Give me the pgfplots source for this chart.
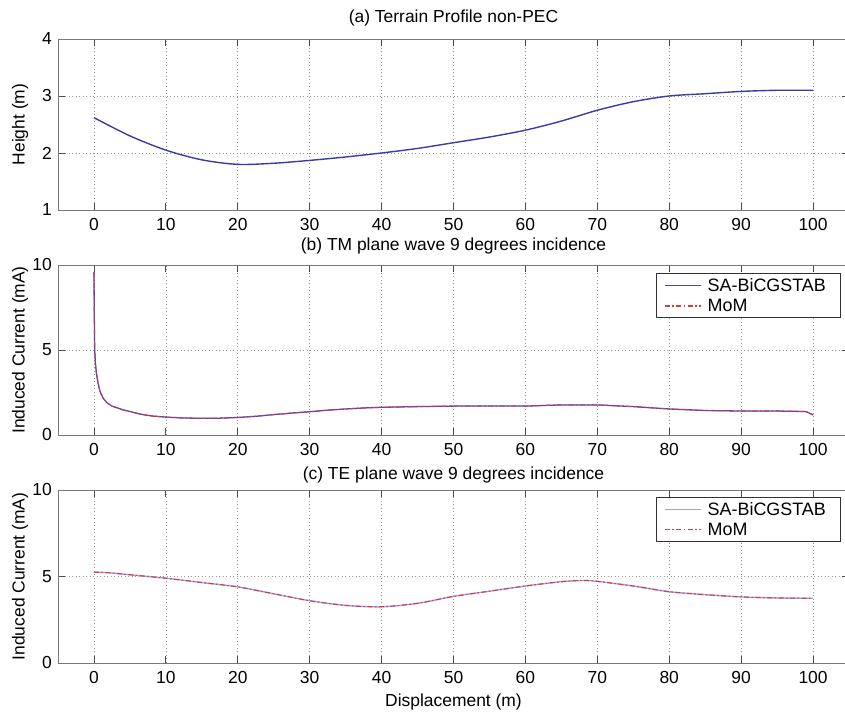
\documentclass[border=0pt]{standalone}
\usepackage{fontspec}
\setmainfont{Liberation Sans}
\usepackage{pgfplots}
\pgfplotsset{compat=1.18}

\definecolor{sablue}{RGB}{70,70,190}
\definecolor{salight}{RGB}{160,160,225}
\definecolor{momred}{RGB}{215,60,60}
\definecolor{frame}{RGB}{120,120,120}

\pgfplotsset{
  panel/.style={
    scale only axis,
    width=791bp,
    xmin=-5, xmax=105,
    xtick={0,10,...,100},
    grid=major,
    major grid style={dash pattern=on 1bp off 2.5bp, gray!80, line width=0.7pt},
    axis line style={frame, line width=0.9pt},
    tick style={black!70, line width=0.8pt},
    major tick length=7bp,
    tick align=inside,
    font=\fontsize{17.5}{20}\selectfont,
    /pgf/number format/assume math mode=true,
    xticklabel style={inner sep=0pt, yshift=-8bp},
    yticklabel style={inner sep=0pt, xshift=-6bp},
    ylabel style={at={(axis description cs:-0.048,0.5)}, anchor=center, rotate=0, inner sep=0pt},
    title style={at={(axis description cs:0.5,1)}, anchor=south, inner sep=0pt},
    legend cell align=left,
    legend style={draw=black!80, line width=0.8pt, fill=white,
      font=\fontsize{18}{22}\selectfont, inner xsep=8bp, inner ysep=3bp,
      row sep=2bp,
      nodes={inner xsep=6bp, inner ysep=2bp}},
    legend image code/.code={\draw[#1, line width=1.5pt] (0bp,0bp) -- (36bp,0bp);},
  }
}

\begin{document}
\begin{tikzpicture}[x=1bp,y=1bp]
\path[use as bounding box] (0,0) rectangle (845,713);

% (a) terrain profile
\begin{axis}[panel, at={(58bp,503bp)}, anchor=south west, height=171bp,
  ymin=1, ymax=4, ytick={1,2,3,4},
  ylabel={Height (m)},
  title={(a) Terrain Profile non-PEC}, title style={yshift=7bp}]
\addplot[sablue!85!black, line width=1.4pt, smooth] coordinates {
 (0,2.62) (5,2.30) (10,2.05) (15,1.88) (20,1.80) (25,1.82) (30,1.87)
 (35,1.93) (40,2.00) (45,2.08) (50,2.18) (55,2.28) (60,2.40) (65,2.56)
 (70,2.75) (75,2.90) (80,3.00) (85,3.04) (90,3.08) (95,3.10) (100,3.10)};
\end{axis}

% (b) TM incidence
\begin{axis}[panel, at={(58bp,278bp)}, anchor=south west, height=170bp,
  ymin=0, ymax=10, ytick={0,5,10},
  ylabel={Induced Current (mA)},
  title={(b) TM plane wave 9 degrees incidence}, title style={yshift=5bp},
  legend style={at={(axis description cs:0.989,0.953)}, anchor=north east}]
\addplot[sablue, line width=1.3pt] coordinates {
 (0,9.6) (0.05,7.0) (0.1,5.0) (0.2,4.2) (0.35,3.6) (0.6,3.0) (0.85,2.55)
 (1.3,2.15) (1.8,1.9) (2.5,1.7) (3.2,1.6) (4.1,1.47) (5,1.38) (6.4,1.23)
 (8,1.12) (10,1.05) (12.5,1.0) (15,0.98) (17.5,0.99) (20,1.03) (22.5,1.1)
 (25,1.2) (27.5,1.29) (30,1.37) (32.5,1.46) (35,1.53) (37.5,1.59) (40,1.63)
 (45,1.67) (50,1.70) (55,1.70) (60,1.70) (65,1.77) (70,1.77) (75,1.67)
 (80,1.53) (85,1.44) (90,1.41) (95,1.41) (99,1.38) (100,1.18)};
\addlegendentry{SA-BiCGSTAB}
\addplot[momred, line width=1.1pt, dash pattern=on 5bp off 2.5bp on 1.5bp off 2.5bp] coordinates {
 (0,9.6) (0.05,7.0) (0.1,5.0) (0.2,4.2) (0.35,3.6) (0.6,3.0) (0.85,2.55)
 (1.3,2.15) (1.8,1.9) (2.5,1.7) (3.2,1.6) (4.1,1.47) (5,1.38) (6.4,1.23)
 (8,1.12) (10,1.05) (12.5,1.0) (15,0.98) (17.5,0.99) (20,1.03) (22.5,1.1)
 (25,1.2) (27.5,1.29) (30,1.37) (32.5,1.46) (35,1.53) (37.5,1.59) (40,1.63)
 (45,1.67) (50,1.70) (55,1.70) (60,1.70) (65,1.77) (70,1.77) (75,1.67)
 (80,1.53) (85,1.44) (90,1.41) (95,1.41) (99,1.38) (100,1.18)};
\addlegendentry{MoM}
\end{axis}

% (c) TE incidence
\begin{axis}[panel, at={(58bp,50bp)}, anchor=south west, height=173bp,
  ymin=0, ymax=10, ytick={0,5,10},
  ylabel={Induced Current (mA)},
  xlabel={Displacement (m)},
  xlabel style={at={(axis description cs:0.5,0)}, anchor=north, inner sep=0pt, yshift=-31bp},
  title={(c) TE plane wave 9 degrees incidence}, title style={yshift=1bp},
  legend style={at={(axis description cs:0.989,0.96)}, anchor=north east}]
\addplot[salight, line width=1.4pt, smooth] coordinates {
 (0,5.25) (2,5.22) (5,5.10) (10,4.90) (15,4.65) (20,4.40) (25,4.00)
 (30,3.60) (35,3.33) (40,3.25) (45,3.45) (50,3.85) (55,4.15) (60,4.45)
 (65,4.70) (68,4.77) (70,4.72) (75,4.45) (80,4.12) (85,3.95) (90,3.82)
 (95,3.76) (100,3.74)};
\addlegendentry{SA-BiCGSTAB}
\addplot[momred, line width=1.1pt, smooth, dash pattern=on 5bp off 2.5bp on 1.5bp off 2.5bp] coordinates {
 (0,5.25) (2,5.22) (5,5.10) (10,4.90) (15,4.65) (20,4.40) (25,4.00)
 (30,3.60) (35,3.33) (40,3.25) (45,3.45) (50,3.85) (55,4.15) (60,4.45)
 (65,4.70) (68,4.77) (70,4.72) (75,4.45) (80,4.12) (85,3.95) (90,3.82)
 (95,3.76) (100,3.74)};
\addlegendentry{MoM}
\end{axis}
\end{tikzpicture}
\end{document}
